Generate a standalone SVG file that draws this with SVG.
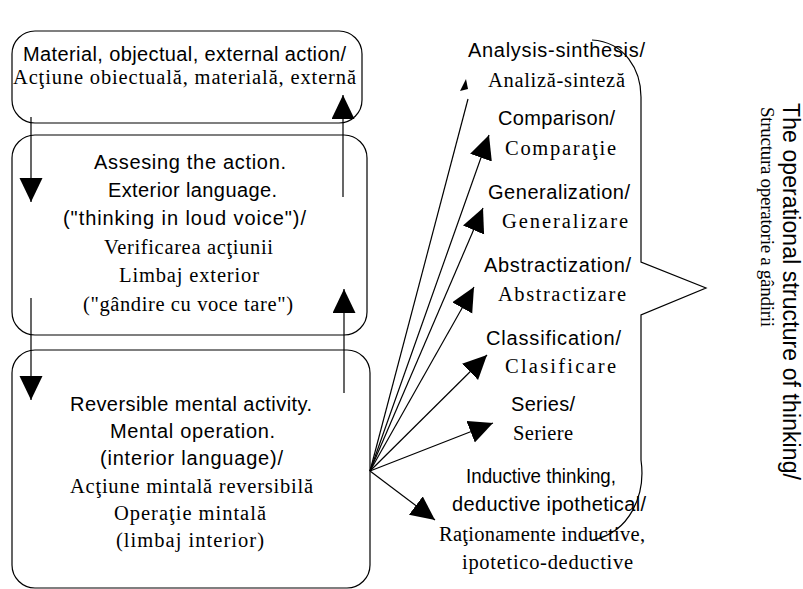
<svg xmlns="http://www.w3.org/2000/svg" width="803" height="589" viewBox="0 0 803 589">
  <style>
    .box { fill: none; stroke: #000; stroke-width: 1.2; }
    .en { font-family: "Liberation Sans", Arial, sans-serif; font-size: 20px; fill: #000; }
    .ro { font-family: "Liberation Serif", "Times New Roman", serif; font-size: 20.5px; fill: #000; }
    .mid { text-anchor: middle; }
    .edge { fill: none; stroke: #000; stroke-width: 1.2; }
    .head { fill: #000; stroke: none; }
  </style>
  <defs>
    <marker id="arrow" markerUnits="userSpaceOnUse" markerWidth="26" markerHeight="24" refX="24" refY="11.5" orient="auto">
      <path d="M0,0 L24,11.5 L0,23 Z" fill="#000"/>
    </marker>
  </defs>
  <rect width="803" height="589" fill="#fff"/>

  <!-- stage 1 -->
  <g id="stage-material">
    <rect class="box" x="12" y="31" width="350" height="92" rx="23" ry="23"/>
    <text class="en mid" x="184.5" y="61" textLength="323" lengthAdjust="spacing">Material, objectual, external action/</text>
    <text class="ro mid" x="184.5" y="84" textLength="343" lengthAdjust="spacing">Acţiune obiectuală, materială, externă</text>
  </g>

  <!-- stage 2 -->
  <g id="stage-assessing">
    <rect class="box" x="12" y="135" width="355" height="200" rx="23" ry="23"/>
    <text class="en mid" x="190" y="169" textLength="192" lengthAdjust="spacing">Assesing the action.</text>
    <text class="en mid" x="192.5" y="197" textLength="169" lengthAdjust="spacing">Exterior language.</text>
    <text class="en mid" x="184.5" y="225" textLength="243" lengthAdjust="spacing">("thinking in loud voice")/</text>
    <text class="ro mid" x="188.5" y="254" textLength="169" lengthAdjust="spacing">Verificarea acţiunii</text>
    <text class="ro mid" x="189" y="282" textLength="140" lengthAdjust="spacing">Limbaj exterior</text>
    <text class="ro mid" x="188" y="311" textLength="210" lengthAdjust="spacing">("gândire cu voce tare")</text>
  </g>

  <!-- stage 3 -->
  <g id="stage-mental">
    <rect class="box" x="12" y="350" width="358" height="238" rx="23" ry="23"/>
    <text class="en mid" x="191" y="411" textLength="242" lengthAdjust="spacing">Reversible mental activity.</text>
    <text class="en mid" x="192.5" y="438" textLength="165" lengthAdjust="spacing">Mental operation.</text>
    <text class="en mid" x="191.5" y="465" textLength="183" lengthAdjust="spacing">(interior language)/</text>
    <text class="ro mid" x="191.5" y="493" textLength="243" lengthAdjust="spacing">Acţiune mintală reversibilă</text>
    <text class="ro mid" x="190" y="520" textLength="152" lengthAdjust="spacing">Operaţie mintală</text>
    <text class="ro mid" x="190" y="547" textLength="148" lengthAdjust="spacing">(limbaj interior)</text>
  </g>

  <!-- operations -->
  <g id="op-analysis">
    <text class="en" x="468" y="57" textLength="177" lengthAdjust="spacing">Analysis-sinthesis/</text>
    <text class="ro" x="488" y="87" textLength="137" lengthAdjust="spacing">Analiză-sinteză</text>
  </g>
  <g id="op-comparison">
    <text class="en" x="498" y="125" textLength="117" lengthAdjust="spacing">Comparison/</text>
    <text class="ro" x="505" y="155" textLength="111" lengthAdjust="spacing">Comparaţie</text>
  </g>
  <g id="op-generalization">
    <text class="en" x="488" y="199" textLength="142" lengthAdjust="spacing">Generalization/</text>
    <text class="ro" x="502" y="228" textLength="126" lengthAdjust="spacing">Generalizare</text>
  </g>
  <g id="op-abstractization">
    <text class="en" x="484" y="272" textLength="147" lengthAdjust="spacing">Abstractization/</text>
    <text class="ro" x="498" y="301" textLength="128" lengthAdjust="spacing">Abstractizare</text>
  </g>
  <g id="op-classification">
    <text class="en" x="486" y="345" textLength="135" lengthAdjust="spacing">Classification/</text>
    <text class="ro" x="505" y="373" textLength="111" lengthAdjust="spacing">Clasificare</text>
  </g>
  <g id="op-series">
    <text class="en" x="511" y="411" textLength="64" lengthAdjust="spacing">Series/</text>
    <text class="ro" x="513" y="440" textLength="60" lengthAdjust="spacing">Seriere</text>
  </g>
  <g id="op-reasoning">
    <text class="en" x="466" y="483" textLength="150" lengthAdjust="spacingAndGlyphs">Inductive thinking,</text>
    <text class="en" x="452" y="511" textLength="194" lengthAdjust="spacing">deductive ipothetical/</text>
    <text class="ro" x="439" y="541" textLength="206" lengthAdjust="spacing">Raţionamente inductive,</text>
    <text class="ro" x="462" y="569" textLength="171" lengthAdjust="spacing">ipotetico-deductive</text>
  </g>

  <!-- brace grouping the operations -->
  <g id="brace">
    <path class="edge" d="M592,40 C625,42 641,70 641,97 L641,262 L706,288 L641,315 L641,460 C646,495 630,532 593,540"/>
  </g>

  <!-- vertical title -->
  <g id="title">
    <text class="en" transform="translate(783,103) rotate(90)" x="0" y="0" style="font-size:23px" textLength="377" lengthAdjust="spacing">The operational structure of thinking/</text>
    <text class="ro" transform="translate(761,107) rotate(90)" x="0" y="0" style="font-size:19px" textLength="220" lengthAdjust="spacing">Structura operatorie a gândirii</text>
  </g>

  <!-- connectors -->
  <g id="connectors">
    <line class="edge" x1="31" y1="117" x2="31" y2="202" marker-end="url(#arrow)"/>
    <line class="edge" x1="31" y1="298" x2="31" y2="400" marker-end="url(#arrow)"/>
    <line class="edge" x1="343" y1="197" x2="343" y2="95" marker-end="url(#arrow)"/>
    <line class="edge" x1="344" y1="393" x2="344" y2="289" marker-end="url(#arrow)"/>

    <line class="edge" x1="370" y1="471" x2="468" y2="99"/>
    <polygon class="head" points="466,79 460,91 468,89"/>
    <line class="edge" x1="370" y1="471" x2="489" y2="135" marker-end="url(#arrow)"/>
    <line class="edge" x1="370" y1="471" x2="483" y2="208" marker-end="url(#arrow)"/>
    <line class="edge" x1="370" y1="471" x2="474" y2="287" marker-end="url(#arrow)"/>
    <line class="edge" x1="370" y1="471" x2="487" y2="355" marker-end="url(#arrow)"/>
    <line class="edge" x1="370" y1="471" x2="493" y2="423" marker-end="url(#arrow)"/>
    <line class="edge" x1="370" y1="471" x2="435" y2="520" marker-end="url(#arrow)"/>
  </g>
</svg>
